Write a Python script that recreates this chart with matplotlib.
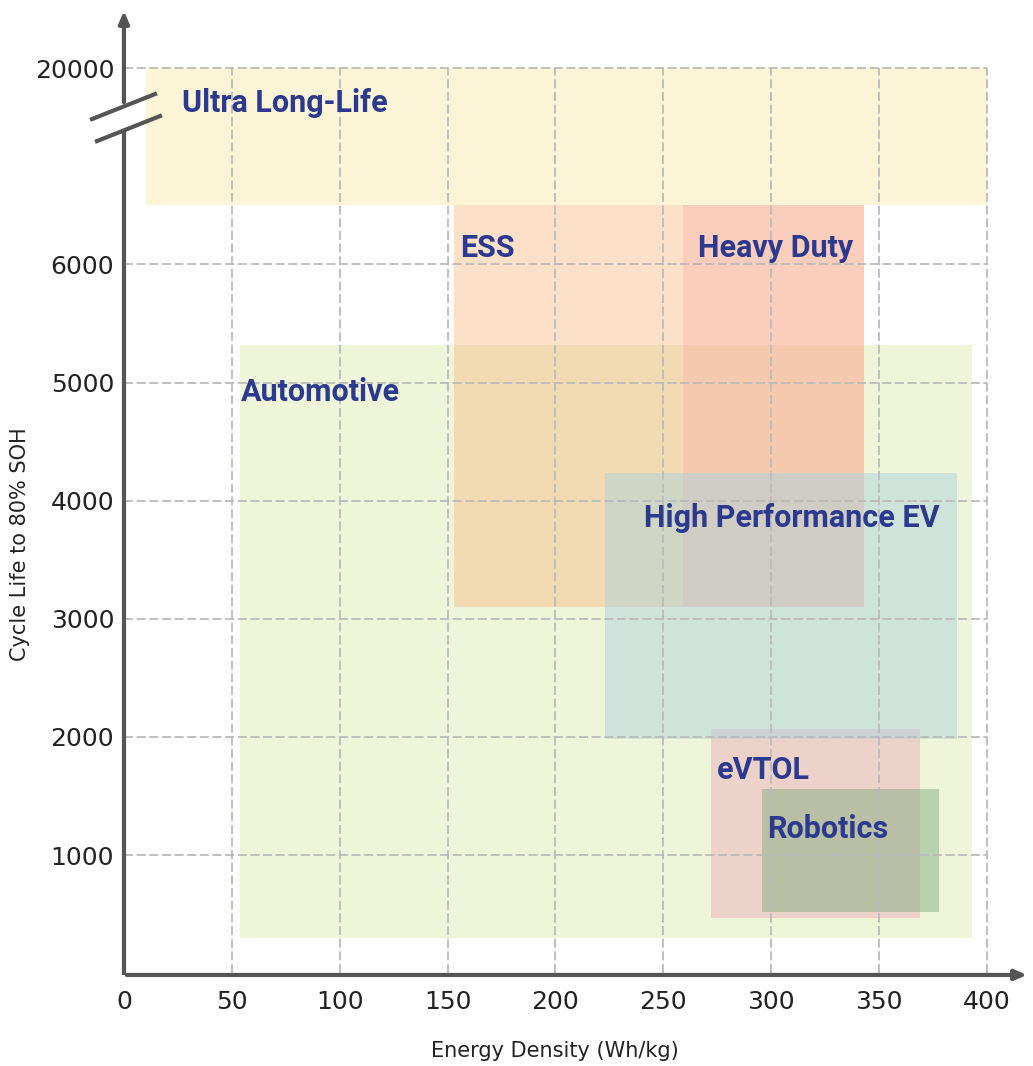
import numpy as np
import matplotlib
matplotlib.use("Agg")
import matplotlib.pyplot as plt

# application windows: energy density (Wh/kg) x cycle life to 80% SOH
names = ["Ultra Long-Life", "Automotive", "ESS", "Heavy Duty", "eVTOL",
         "High Performance EV", "Robotics"]
ed_min = [10, 54, 153, 259, 272, 223, 296]
ed_max = [400, 393, 343, 343, 369, 386, 378]
cyc_min = [6500, 300, 3100, 3100, 470, 1980, 520]
cyc_max = [20000, 5320, 6500, 6500, 2070, 4230, 1560]

# label anchor (left edge, vertical centre)
lab_x = [27, 54, 156, 266, 275, 241, 298]
lab_y = [14200, 4920, 6140, 6140, 1720, 3850, 1220]

x_ticks = [0, 50, 100, 150, 200, 250, 300, 350, 400]
y_ticks = [1000, 2000, 3000, 4000, 5000, 6000, 20000]

colors = ["#FCF4D6", "#D7E6A2", "#F8B87E", "#F9A8A9", "#EDB1BC", "#AED2DA", "#79A97A"]
alphas = [1.0, 0.4, 0.42, 0.35, 0.5, 0.5, 0.45]
txt_col = "#2B3A8E"

# broken y axis: linear up to 7000, compressed above
BRK, K = 7000, 0.05085


def fwd(v):
    v = np.asarray(v, dtype=float)
    return np.where(v <= BRK, v, BRK + (v - BRK) * K)


def inv(u):
    u = np.asarray(u, dtype=float)
    return np.where(u <= BRK, u, BRK + (u - BRK) / K)


fig = plt.figure(figsize=(10.33, 10.66), dpi=100)
ax = fig.add_axes([0.12, 0.0854, 0.877, 0.907])
ax.set_yscale("function", functions=(fwd, inv))
ax.set_xlim(0, 420)
ax.set_ylim(-15, 30000)

for i in range(len(names)):
    ax.bar(ed_min[i], cyc_max[i] - cyc_min[i], width=ed_max[i] - ed_min[i],
           bottom=cyc_min[i], align="edge", color=colors[i], alpha=alphas[i],
           linewidth=0, zorder=1)

# dashed grid limited to the 0..400 x 0..20000 box
ax.hlines(y_ticks, 0, 400, colors="#BBBBBB", linestyles=(0, (5, 2)), lw=1.3, zorder=2)
ax.vlines(x_ticks[1:], 0, 20000, colors="#BBBBBB", linestyles=(0, (5, 2)), lw=1.3, zorder=2)

for i in range(len(names)):
    ax.text(lab_x[i], lab_y[i], names[i], fontsize=22, fontweight="bold",
            family="Roboto", color=txt_col, ha="left", va="center", zorder=4)

for s in ax.spines.values():
    s.set_visible(False)
ax.set_xticks(x_ticks)
ax.set_yticks(y_ticks)
ax.set_xticklabels([str(t) for t in x_ticks])
ax.set_yticklabels([str(t) for t in y_ticks])
ax.tick_params(length=0, labelsize=18, colors="#222222", pad=11)
ax.tick_params(axis="y", pad=7)

# axes with arrows and the break marks
ac = "#555555"
fx = lambda px: (px - 124) / 906.0
fy = lambda py: (975 - py) / 967.0
ax.annotate("", xy=(1.0, 0), xytext=(0, 0), xycoords="axes fraction",
            arrowprops=dict(arrowstyle="-|>,head_length=0.7,head_width=0.3", color=ac, lw=3))
ax.plot([0, 0], [0, fy(130)], transform=ax.transAxes, color=ac, lw=3,
        solid_capstyle="butt", clip_on=False)
ax.annotate("", xy=(0, 1.0), xytext=(0, fy(105)), xycoords="axes fraction",
            arrowprops=dict(arrowstyle="-|>,head_length=0.7,head_width=0.3", color=ac, lw=3))
ax.plot([fx(92), fx(155)], [fy(119), fy(94)], transform=ax.transAxes, color=ac, lw=3, clip_on=False)
ax.plot([fx(97), fx(160)], [fy(141), fy(116)], transform=ax.transAxes, color=ac, lw=3, clip_on=False)

ax.set_xlabel("Energy Density (Wh/kg)", fontsize=15, color="#222222")
ax.xaxis.set_label_coords(200 / 420, -0.068)
ax.set_ylabel("Cycle Life to 80% SOH", fontsize=15, color="#222222")
ax.yaxis.set_label_coords(-0.104, 0.446)

fig.savefig("out.png", dpi=100)
